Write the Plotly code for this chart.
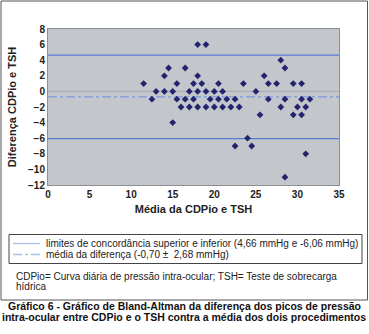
import plotly.graph_objects as go

# Bland-Altman data: mean of CDPio and TSH (x) vs difference (y)
media = [11.5, 12.5, 13, 14, 14, 14.5, 15, 15, 15.5, 15.5, 16, 16.5, 16.5,
         17, 17, 17.5, 17.5, 18, 18, 18, 18, 18.5, 19, 19, 19, 19.5, 20, 20,
         20.5, 20.5, 21, 21, 21.5, 22, 22.5, 22.5, 23, 23.5, 24, 24.5, 25,
         25.5, 26, 26.5, 26.5, 27.5, 28, 28, 28.5, 28.5, 28.5, 29.5, 29.5,
         30, 30.5, 30.5, 30.5, 31, 31, 31.5]
diferenca = [1, -1, 0, 2, 0, 3, 0, -4, 1, -1, -2, 3, -1,
             0, -2, 1, -1, 2, 0, -2, 6, 1, 6, 0, -2, -1, 0, -2,
             1, -1, 0, -2, -1, -2, -1, -7, -2, 1, -6, -7, 0,
             -3, 2, 1, -1, 1, 4, -2, 3, -1, -11, 1, -3,
             -2, 1, -1, -3, -2, -8, -1]

limite_superior = 4.66
limite_inferior = -6.06
media_diferenca = -0.70
desvio = 2.68

x_range = [0, 35]
y_range = [-12, 8]
x_ticks = [0, 5, 10, 15, 20, 25, 30, 35]
y_ticks = [8, 6, 4, 2, 0, -2, -4, -6, -8, -10, -12]

W, H = 369, 334
L, R, T, B = 48, 30, 29, 149
PW, PH = W - L - R, H - T - B


def px(x):
    return (x - L) / PW


def py(y):
    return (H - B - y) / PH


FONT = "Liberation Sans, Arial, sans-serif"
LIM_COLOR = "#5b7bd3"
MEAN_COLOR = "#7d9bd9"

fig = go.Figure()

# zero line
fig.add_trace(go.Scatter(x=x_range, y=[0, 0], mode="lines",
                         line=dict(color="#a6a9ad", width=1),
                         hoverinfo="skip", showlegend=False))
# limits of agreement
for v in (limite_superior, limite_inferior):
    fig.add_trace(go.Scatter(x=x_range, y=[v, v], mode="lines",
                             line=dict(color=LIM_COLOR, width=1.3),
                             showlegend=False))
# mean difference
fig.add_trace(go.Scatter(x=x_range, y=[media_diferenca, media_diferenca],
                         mode="lines",
                         line=dict(color=MEAN_COLOR, width=1.3, dash="dashdot"),
                         showlegend=False))
# points
fig.add_trace(go.Scatter(x=media, y=diferenca, mode="markers",
                         marker=dict(symbol="diamond", size=5.2, color="#23236e"),
                         showlegend=False))

shapes = []
# outer frame
shapes.append(dict(type="rect", xref="paper", yref="paper",
                   x0=px(1), x1=px(367.5), y0=py(300), y1=py(1),
                   line=dict(color="#555555", width=1)))
# legend box
shapes.append(dict(type="rect", xref="paper", yref="paper",
                   x0=px(9), x1=px(362), y0=py(263.5), y1=py(234.5),
                   line=dict(color="#444444", width=1)))
# legend samples
shapes.append(dict(type="line", xref="paper", yref="paper",
                   x0=px(13), x1=px(40), y0=py(243.5), y1=py(243.5),
                   line=dict(color="#a9c0e6", width=1.3)))
shapes.append(dict(type="line", xref="paper", yref="paper",
                   x0=px(13), x1=px(40), y0=py(254.5), y1=py(254.5),
                   line=dict(color="#a9c0e6", width=1.3, dash="dashdot")))

annotations = []


def text(x, y, s, size=10, bold=False, anchor="left", color="#222222"):
    annotations.append(dict(
        x=px(x), y=py(y), xref="paper", yref="paper",
        text=f"<b>{s}</b>" if bold else s, showarrow=False,
        xanchor=anchor, yanchor="middle",
        font=dict(family=FONT, size=size, color=color)))


text(44, 243.5,
     f"limites de concordância superior e inferior "
     f"({limite_superior:.2f} mmHg e {limite_inferior:.2f} mmHg)".replace(".", ","))
text(44, 254.5,
     f"média da diferença ({media_diferenca:.2f} ±  {desvio:.2f} mmHg)".replace(".", ","))
text(14, 276, "CDPio= Curva diária de pressão intra-ocular; TSH= Teste de sobrecarga")
text(14, 286, "hídrica")
text(184, 306, "Gráfico 6 - Gráfico de Bland-Altman da diferença dos picos de pressão",
     size=10.5, bold=True, anchor="center", color="#111111")
text(184, 317, "intra-ocular entre CDPio e o TSH contra a média dos dois procedimentos",
     size=10.5, bold=True, anchor="center", color="#111111")

fig.update_layout(
    width=W, height=H,
    margin=dict(l=L, r=R, t=T, b=B, pad=0),
    paper_bgcolor="white",
    plot_bgcolor="#c3c6ca",
    font=dict(family=FONT, size=10, color="#222222"),
    shapes=shapes,
    annotations=annotations,
    xaxis=dict(range=x_range, tickvals=x_ticks, showgrid=False, zeroline=False,
               showline=True, linecolor="#8c8f93", linewidth=1, mirror=True,
               ticks="", tickfont=dict(size=10, family=FONT, color="#222222",
                                       weight="bold"),
               title=dict(text="<b>Média da CDPio e TSH</b>", standoff=6,
                          font=dict(size=11, family=FONT, color="#222222"))),
    yaxis=dict(range=y_range, tickvals=y_ticks, showgrid=False, zeroline=False,
               showline=True, linecolor="#8c8f93", linewidth=1, mirror=True,
               ticks="", tickfont=dict(size=10, family=FONT, color="#222222",
                                       weight="bold"),
               title=dict(text="<b>Diferença CDPio e TSH</b>", standoff=9,
                          font=dict(size=11, family=FONT, color="#222222"))),
)

fig.write_html("out.html")
